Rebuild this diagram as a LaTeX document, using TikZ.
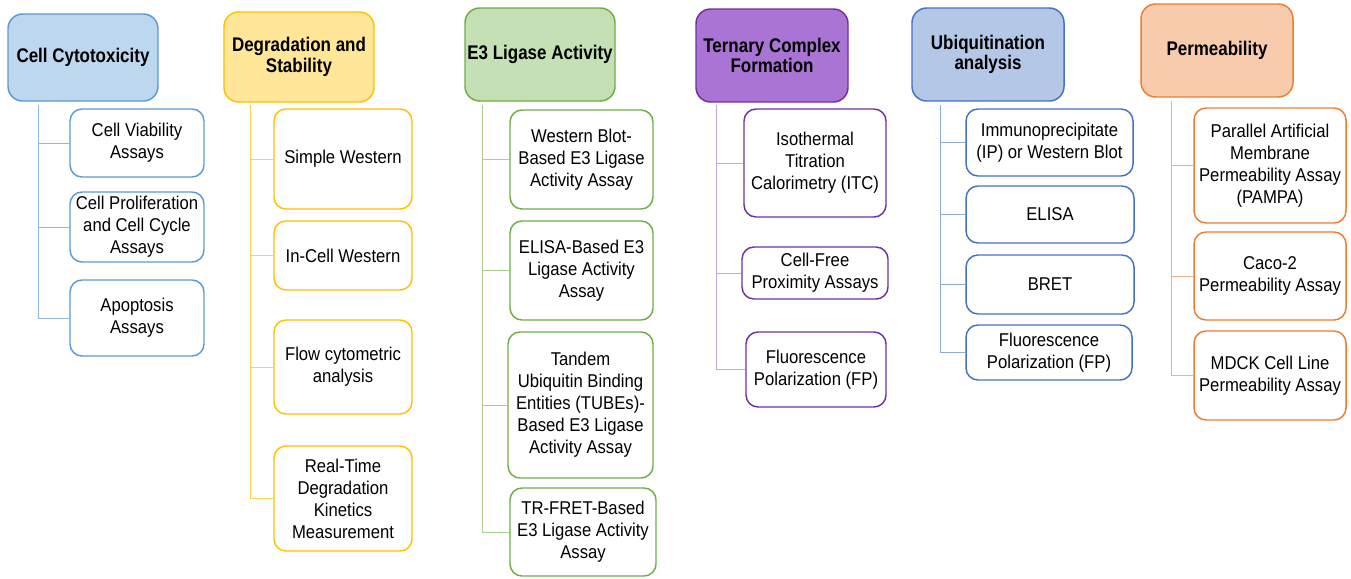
\documentclass[tikz,border=0pt]{standalone}
\usepackage{fontspec}
\setmainfont{Liberation Sans}
\newfontfamily\bodyfont[FakeStretch=0.9]{Liberation Sans}
\newfontfamily\headfont[FakeStretch=0.86]{Liberation Sans Bold}
\definecolor{bBor}{HTML}{5B9BD5}\definecolor{bFil}{HTML}{BDD7EE}\definecolor{bLin}{HTML}{8DB8E2}
\definecolor{yBor}{HTML}{FFC000}\definecolor{yFil}{HTML}{FFE699}\definecolor{yLin}{HTML}{FFD04D}
\definecolor{gBor}{HTML}{70AD47}\definecolor{gFil}{HTML}{C5E0B4}\definecolor{gLin}{HTML}{A9D18E}
\definecolor{pBor}{HTML}{7030A0}\definecolor{pFil}{HTML}{A974D4}\definecolor{pLin}{HTML}{C9A3E0}
\definecolor{uBor}{HTML}{4472C4}\definecolor{uFil}{HTML}{B4C7E7}\definecolor{uLin}{HTML}{8FAADC}
\definecolor{oBor}{HTML}{ED7D31}\definecolor{oFil}{HTML}{F8CBAD}\definecolor{oLin}{HTML}{F4B183}
\begin{document}
\begin{tikzpicture}[x=0.75pt,y=-0.75pt,
  head/.style={draw, line width=1.1pt, rounded corners=11pt, inner sep=0pt, align=center,
    font=\headfont\fontsize{14.8}{15.5}\selectfont, text=black},
  child/.style={draw, line width=1.1pt, rounded corners=9pt, fill=white, inner sep=0pt, align=center,
    font=\bodyfont\fontsize{13.9}{16.5}\selectfont, text=black},
  conn/.style={line width=0.75pt}]
\useasboundingbox (0,0) rectangle (1351,578);

% ---------- Column 1 ----------
\node[head, draw=bBor, fill=bFil, minimum width=150*0.75pt, minimum height=87*0.75pt] (h1) at (83,57.5) {Cell Cytotoxicity};
\node[child, draw=bBor, minimum width=134*0.75pt, minimum height=68*0.75pt] (c11) at (137,143) {Cell Viability\\Assays};
\node[child, draw=bBor, minimum width=134*0.75pt, minimum height=70*0.75pt] (c12) at (137,227) {Cell Proliferation\\and Cell Cycle\\Assays};
\node[child, draw=bBor, minimum width=134*0.75pt, minimum height=76*0.75pt] (c13) at (137,318) {Apoptosis\\Assays};
\coordinate (v1) at (38,105);
\foreach \c in {c11,c12,c13} \draw[conn, bLin] (v1) |- (\c.west);

% ---------- Column 2 ----------
\node[head, draw=yBor, fill=yFil, minimum width=150*0.75pt, minimum height=90*0.75pt] (h2) at (299,57) {Degradation and\\Stability};
\node[child, draw=yBor, minimum width=138*0.75pt, minimum height=100*0.75pt] (c21) at (343,159) {Simple Western};
\node[child, draw=yBor, minimum width=138*0.75pt, minimum height=69*0.75pt] (c22) at (343,255.5) {In-Cell Western};
\node[child, draw=yBor, minimum width=138*0.75pt, minimum height=94*0.75pt] (c23) at (343,367) {Flow cytometric\\analysis};
\node[child, draw=yBor, minimum width=138*0.75pt, minimum height=105*0.75pt] (c24) at (343,498.5) {Real-Time\\Degradation\\Kinetics\\Measurement};
\coordinate (v2) at (250,105);
\foreach \c in {c21,c22,c23,c24} \draw[conn, yLin] (v2) |- (\c.west);

% ---------- Column 3 ----------
\node[head, draw=gBor, fill=gFil, minimum width=150*0.75pt, minimum height=93*0.75pt] (h3) at (540,54.5) {E3 Ligase Activity};
\node[child, draw=gBor, minimum width=143*0.75pt, minimum height=99*0.75pt] (c31) at (581.5,159.5) {Western Blot-\\Based E3 Ligase\\Activity Assay};
\node[child, draw=gBor, minimum width=143*0.75pt, minimum height=99*0.75pt] (c32) at (581.5,270.5) {ELISA-Based E3\\Ligase Activity\\Assay};
\node[child, draw=gBor, minimum width=145*0.75pt, minimum height=146*0.75pt] (c33) at (580.5,405) {Tandem\\Ubiquitin Binding\\Entities (TUBEs)-\\Based E3 Ligase\\Activity Assay};
\node[child, draw=gBor, minimum width=146*0.75pt, minimum height=88*0.75pt] (c34) at (583,532) {TR-FRET-Based\\E3 Ligase Activity\\Assay};
\coordinate (v3) at (482,105);
\foreach \c in {c31,c32,c33,c34} \draw[conn, gLin] (v3) |- (\c.west);

% ---------- Column 4 ----------
\node[head, draw=pBor, fill=pFil, minimum width=152*0.75pt, minimum height=93*0.75pt] (h4) at (772,55.5) {Ternary Complex\\Formation};
\node[child, draw=pBor, minimum width=142*0.75pt, minimum height=108*0.75pt] (c41) at (815,163) {Isothermal\\Titration\\Calorimetry (ITC)};
\node[child, draw=pBor, minimum width=146*0.75pt, minimum height=52*0.75pt] (c42) at (815,273) {Cell-Free\\Proximity Assays};
\node[child, draw=pBor, minimum width=140*0.75pt, minimum height=75*0.75pt] (c43) at (816,369.5) {Fluorescence\\Polarization (FP)};
\coordinate (v4) at (716,105);
\foreach \c in {c41,c42,c43} \draw[conn, pLin] (v4) |- (\c.west);

% ---------- Column 5 ----------
\node[head, draw=uBor, fill=uFil, minimum width=152*0.75pt, minimum height=93*0.75pt] (h5) at (988,54.5) {Ubiquitination\\analysis};
\node[child, draw=uBor, minimum width=167*0.75pt, minimum height=67*0.75pt] (c51) at (1049.5,142.5) {Immunoprecipitate\\(IP) or Western Blot};
\node[child, draw=uBor, minimum width=168*0.75pt, minimum height=57*0.75pt] (c52) at (1050,214.5) {ELISA};
\node[child, draw=uBor, minimum width=168*0.75pt, minimum height=59*0.75pt] (c53) at (1050,284.5) {BRET};
\node[child, draw=uBor, minimum width=166*0.75pt, minimum height=55*0.75pt] (c54) at (1049,352.5) {Fluorescence\\Polarization (FP)};
\coordinate (v5) at (940,105);
\foreach \c in {c51,c52,c53,c54} \draw[conn, uLin] (v5) |- (\c.west);

% ---------- Column 6 ----------
\node[head, draw=oBor, fill=oFil, minimum width=152*0.75pt, minimum height=93*0.75pt] (h6) at (1217,50.5) {Permeability};
\node[child, draw=oBor, minimum width=152*0.75pt, minimum height=115*0.75pt] (c61) at (1270,165.5) {Parallel Artificial\\Membrane\\Permeability Assay\\(PAMPA)};
\node[child, draw=oBor, minimum width=152*0.75pt, minimum height=88*0.75pt] (c62) at (1270,276) {Caco-2\\Permeability Assay};
\node[child, draw=oBor, minimum width=152*0.75pt, minimum height=89*0.75pt] (c63) at (1270,375.5) {MDCK Cell Line\\Permeability Assay};
\coordinate (v6) at (1171,101);
\foreach \c in {c61,c62,c63} \draw[conn, oLin] (v6) |- (\c.west);
\end{tikzpicture}
\end{document}
